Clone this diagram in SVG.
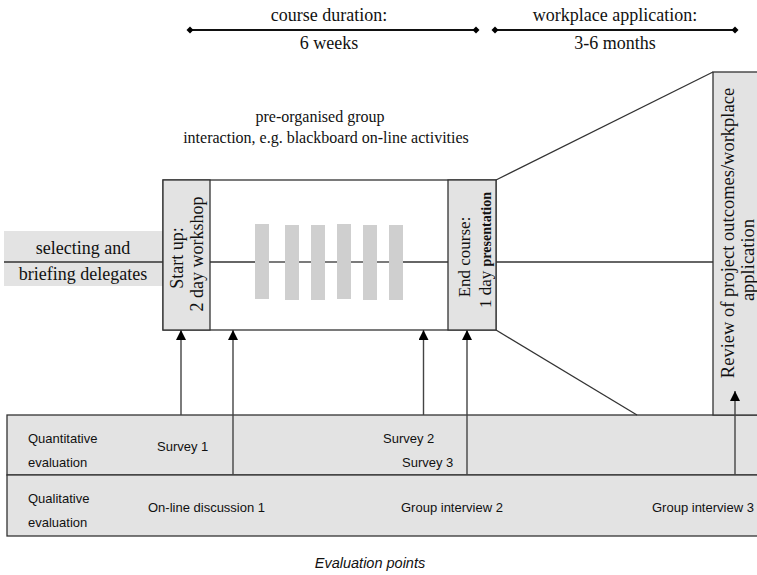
<svg xmlns="http://www.w3.org/2000/svg" width="757" height="575" viewBox="0 0 757 575">
  <style>
    .serif { font-family: "Liberation Serif", "Times New Roman", serif; fill: #111; }
    .sans { font-family: "Liberation Sans", Arial, sans-serif; fill: #111; font-size: 13px; }
    .box { fill: #e3e3e3; stroke: #333; stroke-width: 1.3; }
    .plain { fill: #fff; stroke: #333; stroke-width: 1.3; }
    .line { stroke: #333; stroke-width: 1.3; fill: none; }
    .span { stroke: #111; stroke-width: 2; fill: none; }
    .bar { fill: #cfcfcf; }
    .arrow { stroke: #444; stroke-width: 1.4; fill: none; marker-end: url(#head); }
  </style>
  <defs>
    <marker id="head" viewBox="0 0 10 10" refX="10" refY="5" markerWidth="10" markerHeight="10" markerUnits="userSpaceOnUse" orient="auto">
      <path d="M0,0 L10,5 L0,10 Z" fill="#000"/>
    </marker>
    <marker id="dot" viewBox="-4 -4 8 8" markerWidth="8" markerHeight="8" markerUnits="userSpaceOnUse">
      <path d="M0,-3.5 L3.5,0 L0,3.5 L-3.5,0 Z" fill="#000"/>
    </marker>
  </defs>

  <!-- time spans -->
  <g id="span-course">
    <line class="span" x1="190" y1="30" x2="476" y2="30" marker-start="url(#dot)" marker-end="url(#dot)"/>
    <text class="serif" x="329" y="21" font-size="18" text-anchor="middle">course duration:</text>
    <text class="serif" x="329" y="49" font-size="18" text-anchor="middle">6 weeks</text>
  </g>
  <g id="span-workplace">
    <line class="span" x1="495" y1="30" x2="735" y2="30" marker-start="url(#dot)" marker-end="url(#dot)"/>
    <text class="serif" x="615" y="21" font-size="18" text-anchor="middle">workplace application:</text>
    <text class="serif" x="615" y="49" font-size="18" text-anchor="middle">3-6 months</text>
  </g>

  <g id="group-activities-label">
    <text class="serif" x="320" y="122" font-size="16" text-anchor="middle">pre-organised group</text>
    <text class="serif" x="326" y="143" font-size="16" text-anchor="middle">interaction, e.g. blackboard on-line activities</text>
  </g>

  <!-- evaluation rows -->
  <g id="row-quantitative">
    <rect class="box" x="7" y="415" width="760" height="60"/>
    <text class="sans" x="28" y="443">Quantitative</text>
    <text class="sans" x="28" y="467">evaluation</text>
    <text class="sans" x="157" y="451">Survey 1</text>
    <text class="sans" x="383" y="443">Survey 2</text>
    <text class="sans" x="402" y="467">Survey 3</text>
  </g>
  <g id="row-qualitative">
    <rect class="box" x="7" y="475" width="760" height="61"/>
    <text class="sans" x="28" y="503">Qualitative</text>
    <text class="sans" x="28" y="527">evaluation</text>
    <text class="sans" x="148" y="512">On-line discussion 1</text>
    <text class="sans" x="401" y="512">Group interview 2</text>
    <text class="sans" x="652" y="512">Group interview 3</text>
  </g>

  <!-- review stage -->
  <g id="review">
    <rect class="box" x="713" y="72" width="60" height="343"/>
    <text class="serif" font-size="18.5" text-anchor="middle" transform="translate(734,233) rotate(-90)">Review of project outcomes/workplace</text>
    <text class="serif" font-size="18.5" text-anchor="middle" transform="translate(754,260) rotate(-90)">application</text>
  </g>

  <g id="selecting">
    <rect x="4" y="231" width="159" height="55" fill="#e3e3e3"/>
    <text class="serif" x="83" y="254" font-size="18" text-anchor="middle">selecting and</text>
    <text class="serif" x="83" y="280" font-size="18" text-anchor="middle">briefing delegates</text>
  </g>

  <g id="course">
    <rect class="plain" x="163" y="180" width="333" height="150"/>
    <rect class="bar" x="255" y="224" width="14" height="75"/>
    <rect class="bar" x="285" y="225" width="14" height="75"/>
    <rect class="bar" x="311" y="225" width="14" height="75"/>
    <rect class="bar" x="337" y="224" width="14" height="75"/>
    <rect class="bar" x="363" y="225" width="14" height="75"/>
    <rect class="bar" x="389" y="225" width="14" height="75"/>
  </g>

  <g id="start-up">
    <rect class="box" x="163" y="180" width="47" height="150"/>
    <text class="serif" font-size="18" text-anchor="middle" transform="translate(183,258) rotate(-90)">Start up:</text>
    <text class="serif" font-size="18" text-anchor="middle" transform="translate(203,254) rotate(-90)">2 day workshop</text>
  </g>

  <g id="end-course">
    <rect class="box" x="448" y="180" width="48" height="150"/>
    <text class="serif" font-size="17" text-anchor="middle" transform="translate(470,257) rotate(-90)">End course:</text>
    <text class="serif" font-size="17" text-anchor="middle" transform="translate(491,250) rotate(-90)">1 day <tspan font-weight="bold" font-size="14">presentation</tspan></text>
  </g>

  <!-- connectors -->
  <g id="connectors">
    <line class="line" x1="4" y1="262" x2="163" y2="262"/>
    <line class="line" x1="210" y1="262" x2="255" y2="262"/>
    <line class="line" x1="269" y1="262" x2="285" y2="262"/>
    <line class="line" x1="299" y1="262" x2="311" y2="262"/>
    <line class="line" x1="325" y1="262" x2="337" y2="262"/>
    <line class="line" x1="351" y1="262" x2="363" y2="262"/>
    <line class="line" x1="377" y1="262" x2="389" y2="262"/>
    <line class="line" x1="403" y1="262" x2="448" y2="262"/>
    <line class="line" x1="496" y1="262" x2="713" y2="262"/>
    <line class="line" x1="496" y1="180" x2="713" y2="72"/>
    <line class="line" x1="496" y1="330" x2="637" y2="415"/>
    <line class="arrow" x1="181" y1="415" x2="181" y2="330"/>
    <line class="arrow" x1="233" y1="475" x2="233" y2="330"/>
    <line class="arrow" x1="423.5" y1="415" x2="423.5" y2="330"/>
    <line class="arrow" x1="467" y1="475" x2="467" y2="330"/>
    <line class="arrow" x1="735" y1="475" x2="735" y2="391"/>
  </g>

  <text x="370" y="568" font-family="Liberation Sans, Arial, sans-serif" font-size="14.5" font-style="italic" fill="#111" text-anchor="middle">Evaluation points</text>
</svg>
